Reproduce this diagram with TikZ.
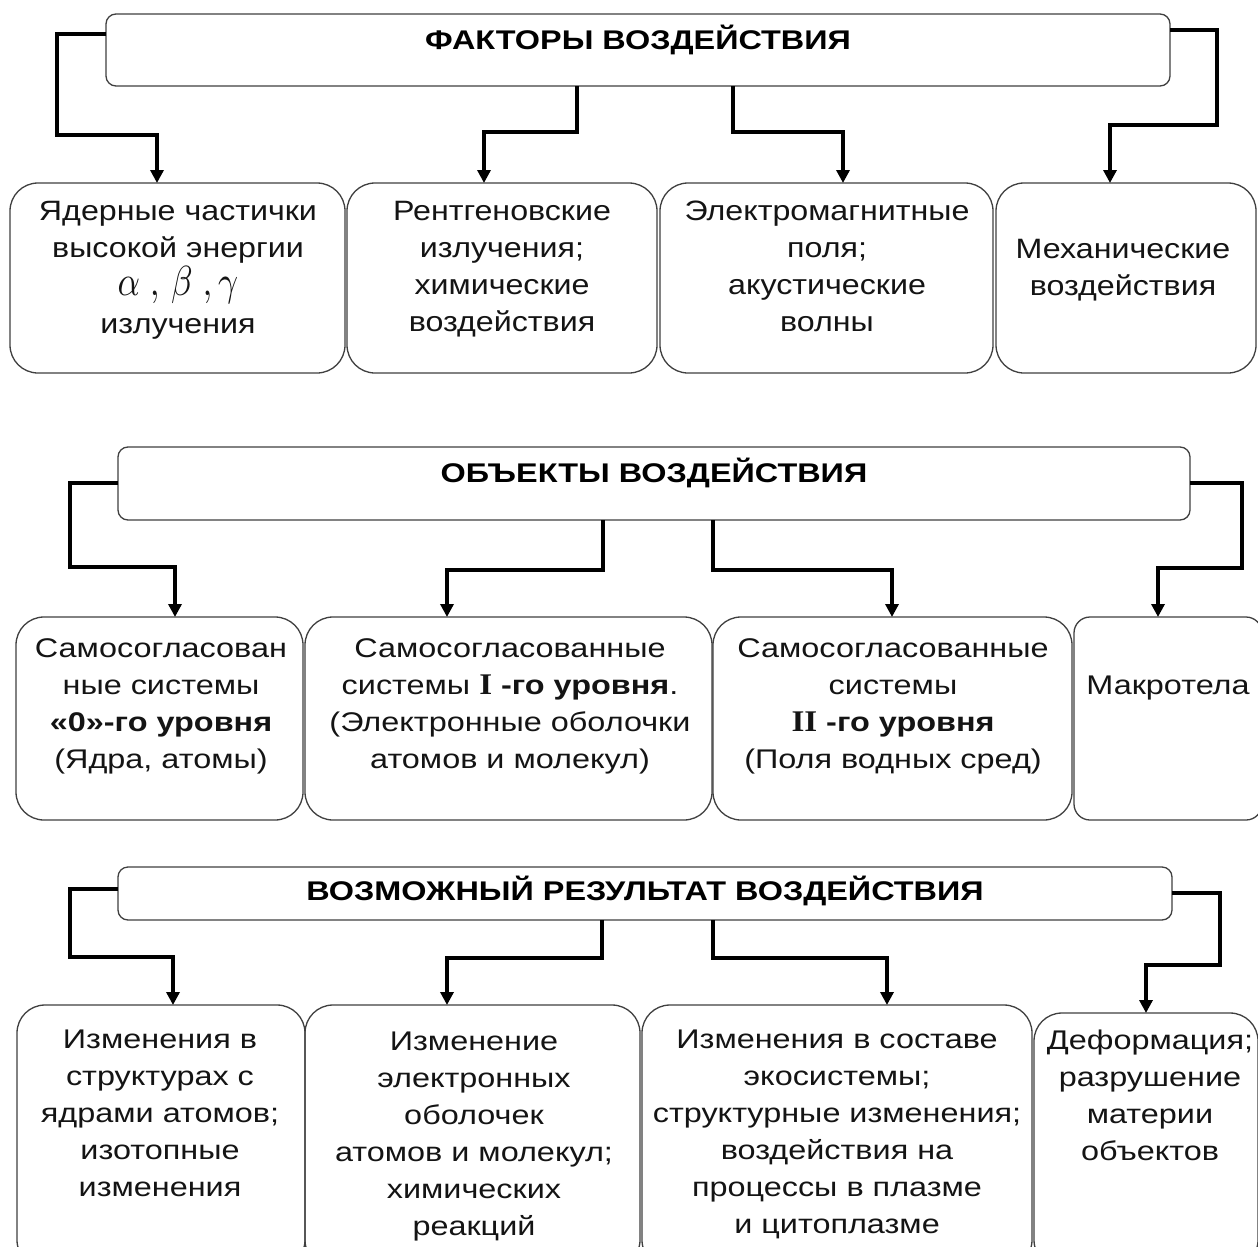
\documentclass[tikz,border=0pt]{standalone}
\usepackage{fontspec}
\setmainfont{Liberation Sans}[FakeStretch=1.2]
\newfontfamily\rowone{Liberation Sans}[FakeStretch=1.15]
\newfontfamily\romanb{Liberation Serif}[FakeStretch=1.1]
\usetikzlibrary{arrows.meta,fit}
\newcommand\greekline{\scalebox{3.5}[4.2]{\fontsize{10}{12}\selectfont$\alpha\;,\,\beta\;,\gamma$}}
\begin{document}
\begin{tikzpicture}[x=1pt,y=-1pt,
  box/.style={draw=black!75, line width=1.3pt, rounded corners=28pt, inner sep=0pt, outer sep=0pt},
  hbox/.style={box, rounded corners=10pt},
  txt/.style={font=\fontsize{27}{37}\selectfont, align=center, inner sep=0pt, anchor=north, text=black!92},
  txtone/.style={txt, font=\rowone\fontsize{28}{37}\selectfont},
  htxt/.style={font=\fontsize{27}{33}\selectfont\bfseries, inner sep=0pt, anchor=base, text=black},
  conn/.style={line width=3.6pt, -{Triangle[width=13pt,length=13pt]}, line join=miter}
]
\useasboundingbox[fill=white] (0,0) rectangle (1258,1247);

% ---------- Row 1 ----------
\node[hbox, fit={(106,14) (1170,86)}] (h1) {};
\node[htxt] (h1t) at (638,50) {ФАКТОРЫ ВОЗДЕЙСТВИЯ};
\node[box, fit={(10,183) (345,373)}] (b11) {};
\node[box, fit={(347,183) (657,373)}] (b12) {};
\node[box, fit={(660,183) (993,373)}] (b13) {};
\node[box, fit={(996,183) (1256,373)}] (b14) {};
\node[txtone] (t11) at (178,201) {Ядерные частички\\высокой энергии\\[1pt]\greekline\\[1pt]излучения};
\node[txtone] (t12) at (502,201) {Рентгеновские\\излучения;\\химические\\воздействия};
\node[txtone] (t13) at (827,201) {Электромагнитные\\поля;\\акустические\\волны};
\node[txtone] (t14) at (1123,239) {Механические\\воздействия};

\draw[conn] (h1.west |- 0,34) -| (57,135) -| (b11.north -| 157,0);
\draw[conn] (h1.south -| 577,0) |- (484,132) -- (b12.north -| 484,0);
\draw[conn] (h1.south -| 733,0) |- (843,132) -- (b13.north -| 843,0);
\draw[conn] (h1.east |- 0,30) -| (1217,125) -| (b14.north -| 1110,0);

% ---------- Row 2 ----------
\node[hbox, fit={(118,447) (1190,520)}] (h2) {};
\node[htxt] (h2t) at (654,482) {ОБЪЕКТЫ ВОЗДЕЙСТВИЯ};
\node[box, fit={(16,617) (303,820)}] (b21) {};
\node[box, fit={(305,617) (712,820)}] (b22) {};
\node[box, fit={(713,617) (1072,820)}] (b23) {};
\node[box, rounded corners=16pt, fit={(1074,617) (1262,820)}] (b24) {};
\node[txt] (t21) at (161,638) {Самосогласован\\ные системы\\\textbf{«0»-го уровня}\\(Ядра, атомы)};
\node[txt] (t22) at (510,638) {Самосогласованные\\системы {\romanb\bfseries\fontsize{30}{37}\selectfont I} \textbf{-го уровня}.\\(Электронные оболочки\\атомов и молекул)};
\node[txt] (t23) at (893,638) {Самосогласованные\\системы\\{\romanb\bfseries\fontsize{30}{37}\selectfont II} \textbf{-го уровня}\\(Поля водных сред)};
\node[txt] (t24) at (1168,676) {Макротела};

\draw[conn] (h2.west |- 0,483) -| (70,567) -| (b21.north -| 175,0);
\draw[conn] (h2.south -| 603,0) |- (447,570) -- (b22.north -| 447,0);
\draw[conn] (h2.south -| 713,0) |- (892,570) -- (b23.north -| 892,0);
\draw[conn] (h2.east |- 0,483) -| (1242,568) -| (b24.north -| 1158,0);

% ---------- Row 3 ----------
\node[hbox, fit={(118,867) (1172,920)}] (h3) {};
\node[htxt] (h3t) at (645,900) {ВОЗМОЖНЫЙ РЕЗУЛЬТАТ ВОЗДЕЙСТВИЯ};
\node[box, fit={(17,1005) (305,1268)}] (b31) {};
\node[box, fit={(305,1005) (640,1268)}] (b32) {};
\node[box, fit={(642,1005) (1032,1268)}] (b33) {};
\node[box, fit={(1034,1013) (1258,1268)}] (b34) {};
\node[txt] (t31) at (160,1030) {Изменения в\\структурах с\\ядрами атомов;\\изотопные\\изменения};
\node[txt] (t32) at (474,1032) {Изменение\\электронных\\оболочек\\атомов и молекул;\\химических\\реакций};
\node[txt] (t33) at (837,1030) {Изменения в составе\\экосистемы;\\структурные изменения;\\воздействия на\\процессы в плазме\\и цитоплазме};
\node[txt] (t34) at (1150,1030) {Деформация;\\разрушение\\материи\\объектов};

\draw[conn] (h3.west |- 0,889) -| (70,957) -| (b31.north -| 173,0);
\draw[conn] (h3.south -| 602,0) |- (447,958) -- (b32.north -| 447,0);
\draw[conn] (h3.south -| 713,0) |- (887,958) -- (b33.north -| 887,0);
\draw[conn] (h3.east |- 0,893) -| (1220,965) -| (b34.north -| 1146,0);
\end{tikzpicture}
\end{document}
